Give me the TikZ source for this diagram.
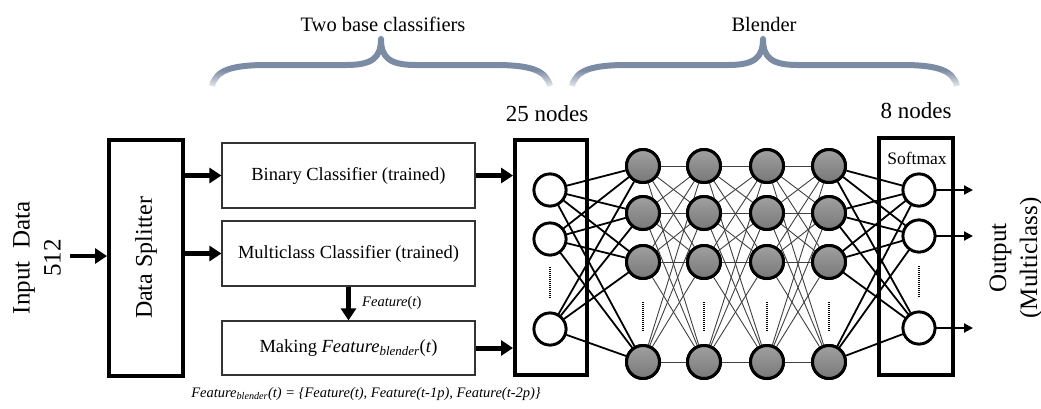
\documentclass[tikz,border=0pt]{standalone}
\usepackage{fontspec}
\setmainfont{Liberation Serif}
\usetikzlibrary{arrows.meta,fadings}
\definecolor{bracecol}{RGB}{124,139,164}
\definecolor{hidtop}{RGB}{160,160,160}
\definecolor{hidbot}{RGB}{120,120,120}
\begin{document}
\begin{tikzpicture}[x=1pt,y=-1pt,
  thickbox/.style={draw=black, line width=4pt, inner sep=0pt},
  thinbox/.style={draw=black!80, line width=1.2pt, inner sep=0pt, minimum width=253pt,
    font=\fontsize{18.5}{22}\selectfont},
  bigtext/.style={font=\fontsize{25}{31}\selectfont, align=center, inner sep=0pt},
  headtext/.style={font=\fontsize{20.5}{24}\selectfont, inner sep=0pt},
  nodetext/.style={font=\fontsize{23}{27}\selectfont, inner sep=0pt},
  inneuron/.style={circle, draw=black, line width=2.8pt, fill=white, minimum size=32pt, inner sep=0pt},
  hidneuron/.style={circle, draw=black, line width=3pt, top color=hidtop, bottom color=hidbot,
    minimum size=33pt, inner sep=0pt},
  fatarrow/.style={line width=4.5pt, -{Triangle[length=12pt,width=15pt]}},
  heavyarrow/.style={line width=5pt, -{Triangle[length=12pt,width=15pt]}},
  outarrow/.style={line width=2pt, -{Triangle[length=9pt,width=9pt]}},
  strong/.style={line width=1.8pt, draw=black},
  weak/.style={line width=0.9pt, draw=black!75},
  vdots/.style={line width=1.8pt, dash pattern=on 1pt off 1pt},
  bracestroke/.style={draw=bracecol, line width=6pt, line join=round, line cap=butt},
]
\useasboundingbox (0,0) rectangle (1041,408);

% ---- group braces ----
\draw[bracestroke] (212,86) .. controls (216,70) and (232,65) .. (267,65) -- (346,65)
  .. controls (372,65) and (381,58) .. (381,39) .. controls (381,58) and (390,65) .. (416,65)
  -- (495,65) .. controls (530,65) and (546,70) .. (550,86);
\draw[bracestroke] (572,86) .. controls (576,70) and (592,65) .. (627,65) -- (728,65)
  .. controls (754,65) and (763,58) .. (763,39) .. controls (763,58) and (772,65) .. (798,65)
  -- (902,65) .. controls (937,65) and (953,70) .. (957,86);
\fill[white, path fading=north] (200,70) rectangle (970,90);
\node[headtext] (twobase) at (383,24) {Two base classifiers};
\node[headtext] (blender) at (764,24) {Blender};

% ---- input and splitter ----
\node[bigtext, rotate=90] (input) at (37,258) {Input\ \ Data\\512};
\coordinate (instart) at (70,256);
\node[thickbox, minimum width=74pt, minimum height=236pt] (split) at (146,258) {};
\node[bigtext, rotate=90, font=\fontsize{24}{28}\selectfont] (splittxt) at (split.center) {Data Splitter};
\draw[fatarrow] (instart) -- (split.west |- instart);

% ---- base classifiers ----
\node[thinbox, minimum height=65pt] (bin) at (348.5,175.5) {Binary Classifier (trained)};
\node[thinbox, minimum height=65pt] (multi) at (348.5,253.5) {Multiclass Classifier (trained)};
\node[thinbox, minimum height=54pt] (making) at (348.5,348)
  {Making \textit{Feature}\textsubscript{\textit{blender}}(\textit{t})};
\draw[fatarrow] (split.east |- bin.west) -- (bin.west);
\draw[fatarrow] (split.east |- multi.west) -- (multi.west);
\draw[fatarrow] (multi.south) -- (making.north);
\node[anchor=west, inner sep=0pt, font=\fontsize{14.5}{17}\selectfont] (feat) at (362,303)
  {\textit{Feature}(\textit{t})};
\node[inner sep=0pt, font=\fontsize{14.5}{17}\selectfont\itshape] (formula) at (366,394)
  {Feature\textsubscript{blender}(t) = \{Feature(t), Feature(t-1p), Feature(t-2p)\}};

% ---- blender input layer ----
\node[thickbox, minimum width=72pt, minimum height=235pt] (inbox) at (551,257.5) {};
\node[nodetext] (n25) at (547,114) {25 nodes};
\draw[heavyarrow] (bin.east) -- (inbox.west |- bin.east);
\draw[heavyarrow] (making.east) -- (inbox.west |- making.east);

% ---- output layer box ----
\node[thickbox, minimum width=74pt, minimum height=237pt] (outbox) at (916,256.5) {};
\node[nodetext] (n8) at (916,111) {8 nodes};
\node[inner sep=0pt, font=\fontsize{17.5}{20}\selectfont] (softmax) at (917,158) {Softmax};

% ---- neurons ----
\foreach \y [count=\r] in {190,239,329} \node[inneuron] (i\r) at (550,\y) {};
\foreach \x [count=\c] in {643,704,767,829}
  \foreach \y [count=\r] in {166,213,262,362}
    \node[hidneuron] (h\c\r) at (\x,\y) {};
\foreach \y [count=\r] in {190,236,328} \node[inneuron] (o\r) at (919,\y) {};

% ---- connections ----
\foreach \a in {1,2,3}
  \foreach \b in {1,2,3,4}
    \draw[strong] (i\a) -- (h1\b);
\foreach \c/\d in {1/2,2/3,3/4}
  \foreach \a in {1,2,3,4}
    \foreach \b in {1,2,3,4}
      \draw[weak] (h\c\a) -- (h\d\b);
\foreach \a in {1,2,3,4}
  \foreach \b in {1,2,3}
    \draw[strong] (h4\a) -- (o\b);

% redraw neurons on top of the links
\foreach \y [count=\r] in {190,239,329} \node[inneuron] at (550,\y) {};
\foreach \x [count=\c] in {643,704,767,829}
  \foreach \y [count=\r] in {166,213,262,362}
    \node[hidneuron] at (\x,\y) {};
\foreach \y [count=\r] in {190,236,328} \node[inneuron] at (919,\y) {};

% ---- ellipsis dots ----
\draw[vdots] (550,267) -- (550,298);
\foreach \x in {643,704,767,829} \draw[vdots] (\x,302) -- (\x,331);
\draw[vdots] (919,266) -- (919,297);

% ---- outputs ----
\foreach \r in {1,2,3} {
  \coordinate (oend\r) at (973,0 |- o\r);
  \draw[outarrow] (o\r.east) -- (oend\r);
}
\node[bigtext, rotate=90] (output) at (1016,258) {Output\\(Multiclass)};
\end{tikzpicture}
\end{document}
